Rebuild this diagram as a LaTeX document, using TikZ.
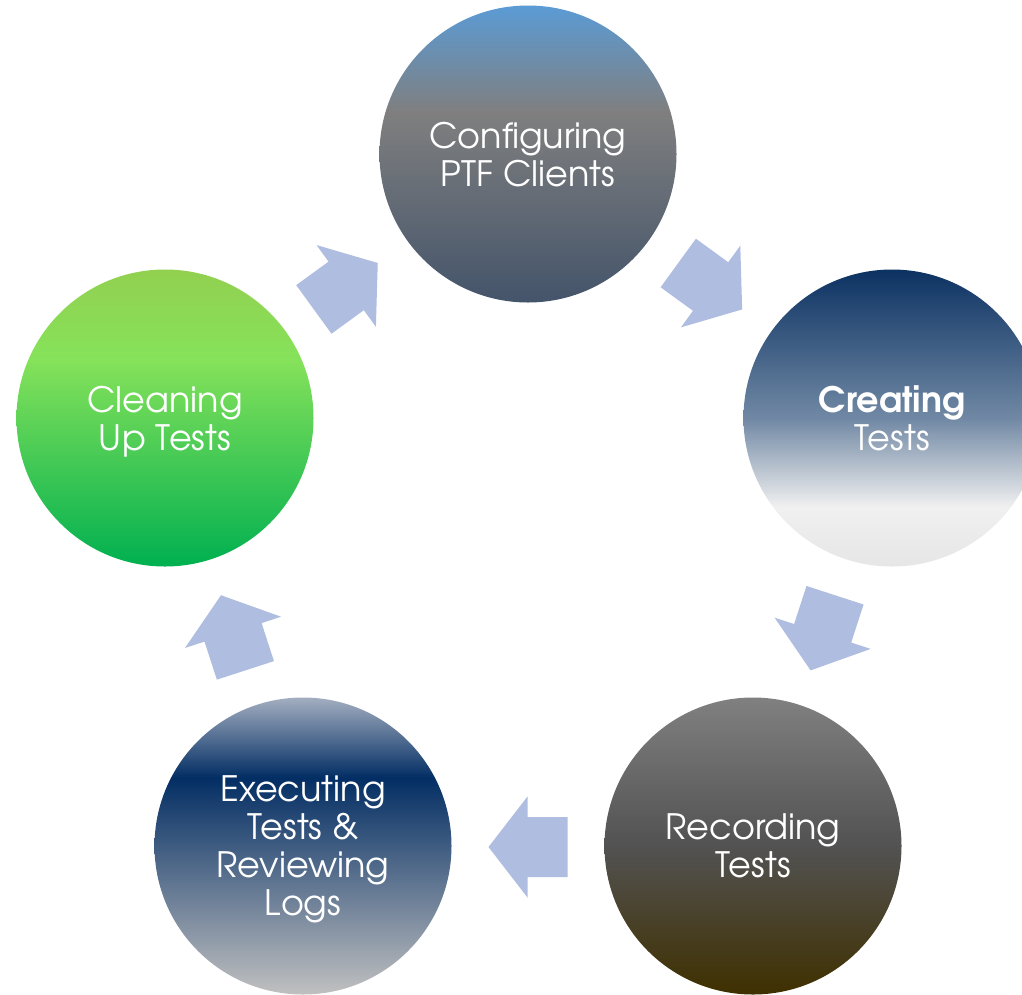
\documentclass[tikz,border=0pt]{standalone}
\usepackage{fontspec}
\setmainfont{TeX Gyre Adventor}
\definecolor{topT}{RGB}{91,155,213}
\definecolor{topM}{RGB}{127,127,127}
\definecolor{topB}{RGB}{68,84,106}
\definecolor{rgtT}{RGB}{12,50,98}
\definecolor{rgtM}{RGB}{112,136,164}
\definecolor{rgtL}{RGB}{240,240,240}
\definecolor{rgtB}{RGB}{230,230,230}
\definecolor{brT}{RGB}{128,128,128}
\definecolor{brM}{RGB}{82,82,82}
\definecolor{brB}{RGB}{63,48,0}
\definecolor{blT}{RGB}{163,174,192}
\definecolor{blM}{RGB}{3,46,100}
\definecolor{blB}{RGB}{192,192,192}
\definecolor{lfT}{RGB}{146,208,80}
\definecolor{lfM}{RGB}{134,226,90}
\definecolor{lfB}{RGB}{0,176,80}
\definecolor{arrowfill}{RGB}{175,189,224}
\pgfdeclareverticalshading{shtop}{100bp}{color(0bp)=(topB); color(25bp)=(topB); color(57bp)=(topM); color(75bp)=(topT); color(100bp)=(topT)}
\pgfdeclareverticalshading{shrgt}{100bp}{color(0bp)=(rgtB); color(25bp)=(rgtB); color(35bp)=(rgtL); color(50bp)=(rgtM); color(75bp)=(rgtT); color(100bp)=(rgtT)}
\pgfdeclareverticalshading{shbr}{100bp}{color(0bp)=(brB); color(25bp)=(brB); color(50bp)=(brM); color(75bp)=(brT); color(100bp)=(brT)}
\pgfdeclareverticalshading{shbl}{100bp}{color(0bp)=(blB); color(25bp)=(blB); color(61.5bp)=(blM); color(75bp)=(blT); color(100bp)=(blT)}
\pgfdeclareverticalshading{shlf}{100bp}{color(0bp)=(lfB); color(25bp)=(lfB); color(60bp)=(lfM); color(75bp)=(lfT); color(100bp)=(lfT)}
\tikzset{
  stage/.style={circle, minimum size=297pt, inner sep=0pt, text=white, align=center,
    text depth=0pt, font=\fontsize{35}{38}\selectfont},
  cyclearrow/.style={fill=arrowfill, draw=none}
}
\begin{document}
\begin{tikzpicture}[x=1pt,y=-1pt]
\clip (0,0) rectangle (1022,994);
\fill[white] (0,0) rectangle (1022,994);
\node[stage, shading=shtop] (cfg) at (528,154) {Configuring\\PTF Clients};
\node[stage, shading=shrgt] (crt) at (892,418) {\textbf{Creating}\\Tests};
\node[stage, shading=shbr] (rec) at (753,846) {Recording\\Tests};
\node[stage, shading=shbl] (exe) at (303,846) {Executing\\Tests \&\\Reviewing\\Logs};
\node[stage, shading=shlf] (cln) at (165,418) {Cleaning\\Up Tests};
\foreach \cx/\cy/\ang/\nm in {710.2/286.2/-36/a1, 822.8/632.8/-108/a2, 528/847/180/a3, 233.2/632.8/108/a4, 345.8/286.2/36/a5}{
  \begin{scope}[shift={(\cx,\cy)}, rotate=\ang]
    \coordinate (\nm) at (0,0);
    \fill[cyclearrow] (-39.5,-30) -- (0.5,-30) -- (0.5,-50.5) -- (39.5,0) -- (0.5,50.5) -- (0.5,30) -- (-39.5,30) -- cycle;
  \end{scope}
}
\end{tikzpicture}
\end{document}
